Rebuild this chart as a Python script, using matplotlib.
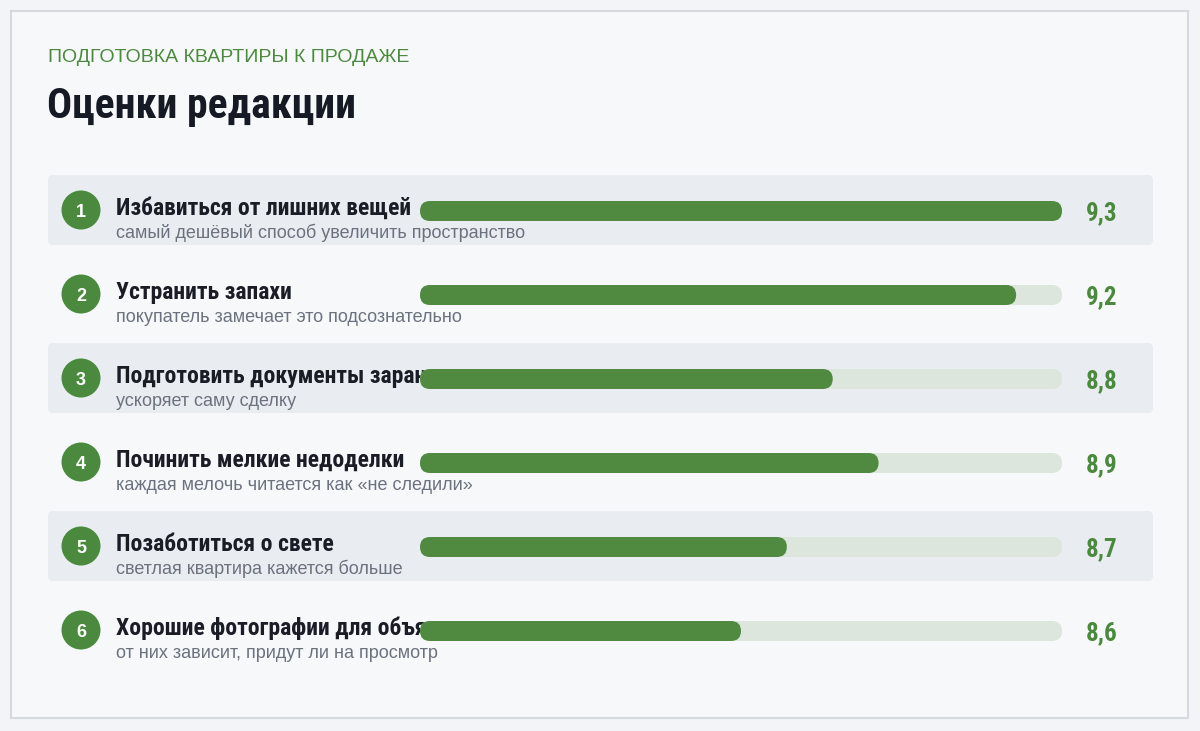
import matplotlib
matplotlib.use('Agg')
import matplotlib.pyplot as plt
from matplotlib.patches import FancyBboxPatch, Circle, Rectangle

kicker = 'ПОДГОТОВКА КВАРТИРЫ К ПРОДАЖЕ'
title = 'Оценки редакции'
ranks = [1, 2, 3, 4, 5, 6]
tasks = ['Избавиться от лишних вещей', 'Устранить запахи', 'Подготовить документы заранее',
         'Починить мелкие недоделки', 'Позаботиться о свете', 'Хорошие фотографии для объявления']
notes = ['самый дешёвый способ увеличить пространство', 'покупатель замечает это подсознательно',
         'ускоряет саму сделку', 'каждая мелочь читается как «не следили»',
         'светлая квартира кажется больше', 'от них зависит, придут ли на просмотр']
scores = [9.3, 9.2, 8.8, 8.9, 8.7, 8.6]
scale_min, scale_max = 7.9, 9.3

green = '#4b8a3e'
bar_green = '#4f8a40'
track = '#dde6dc'
band = '#e9ecf0'
narrow = ['Roboto Condensed', 'DejaVu Sans']
regular = ['Liberation Sans', 'DejaVu Sans']

W, H = 1200, 731
fig = plt.figure(figsize=(W / 100, H / 100), dpi=100)
fig.patch.set_facecolor('#f2f4f7')
ax = fig.add_axes([0, 0, 1, 1])
ax.set_xlim(0, W)
ax.set_ylim(H, 0)
ax.axis('off')

# card
ax.add_patch(Rectangle((11, 11), 1177, 707, fc='#f6f8fa', ec='#d5d9e0', lw=1.5))

ax.text(48, 62, kicker, family=regular, fontsize=14, color=green, va='baseline')
ax.text(47, 118, title, family=narrow, fontsize=30, fontweight='bold', color='#161a24', va='baseline')

row0, step = 210, 84
for i, r in enumerate(ranks):
    y = row0 + step * i
    if i % 2 == 0:
        ax.add_patch(FancyBboxPatch((48, y - 35), 1105, 70, boxstyle='round,pad=0,rounding_size=5',
                                    fc=band, ec='none'))
    ax.add_patch(Circle((81, y), 19.5, fc=green, ec='none'))
    ax.text(81, y + 7, str(r), family=regular, fontsize=13, fontweight='bold', color='white',
            ha='center', va='baseline')
    ax.text(116, y + 5, tasks[i], family=narrow, fontsize=17, fontweight='bold', color='#1a1d26',
            va='baseline')
    ax.text(116, y + 28, notes[i], family=regular, fontsize=13, color='#6b717e', va='baseline')
    ax.text(1086, y + 10, ('%.1f' % scores[i]).replace('.', ','), family=narrow, fontsize=18,
            fontweight='bold', color=green, va='baseline')

# bars on their own axes, on top of the labels
bx0, bw = 420, 642
top, bot = row0 - step / 2, row0 + step * (len(ranks) - 0.5)
axb = fig.add_axes([bx0 / W, (H - bot) / H, bw / W, (bot - top) / H])
axb.set_xlim(scale_min, scale_max)
axb.set_ylim(len(ranks) - 0.5, -0.5)
axb.axis('off')
axb.patch.set_alpha(0)

xpp = (scale_max - scale_min) / bw
ypp = len(ranks) / (bot - top)
bh = 20 * ypp
for i, v in enumerate(scores):
    y_off = 1 * ypp
    for end, c in [(scale_max, track), (v, bar_green)]:
        axb.add_patch(FancyBboxPatch((scale_min, i - bh / 2 + y_off), end - scale_min, bh,
                                     boxstyle='round,pad=0,rounding_size=%f' % (10 * xpp),
                                     mutation_aspect=ypp / xpp, fc=c, ec='none'))

fig.savefig('out.png', dpi=100, facecolor=fig.get_facecolor())
